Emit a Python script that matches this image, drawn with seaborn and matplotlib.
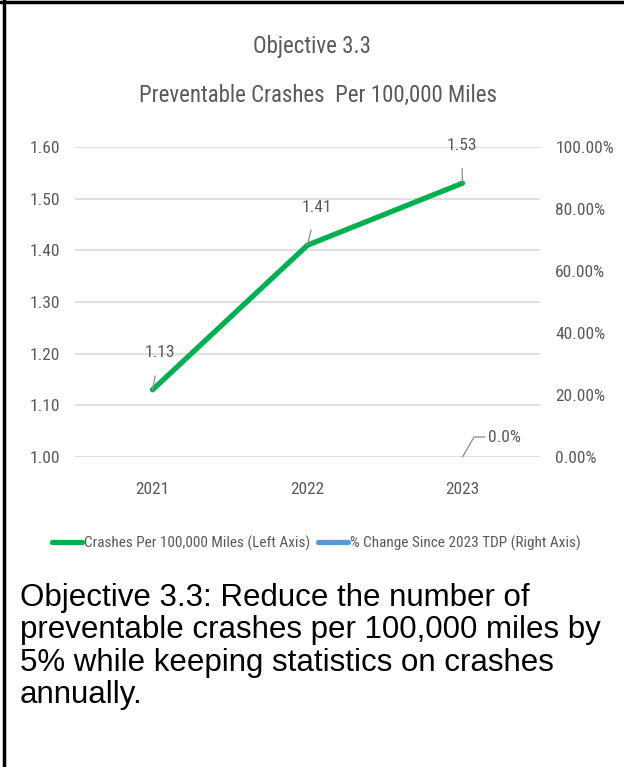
import matplotlib
matplotlib.use("Agg")
import matplotlib.pyplot as plt
import seaborn as sns
import pandas as pd
from matplotlib import font_manager as fm
from matplotlib.lines import Line2D

years = ["2021", "2022", "2023"]
crashes = [1.13, 1.41, 1.53]
pct_years = ["2023"]
pct_change = [0.0]
left_ticks = [1.00, 1.10, 1.20, 1.30, 1.40, 1.50, 1.60]
right_ticks = [0.0, 0.2, 0.4, 0.6, 0.8, 1.0]
title_lines = ["Objective 3.3", "Preventable Crashes  Per 100,000 Miles"]
legend_labels = ["Crashes Per 100,000 Miles (Left Axis)", "% Change Since 2023 TDP (Right Axis)"]
caption_lines = ["Objective 3.3: Reduce the number of",
                 "preventable crashes per 100,000 miles by",
                 "5% while keeping statistics on crashes",
                 "annually."]

sns.set_theme(style="white")
names = {f.name for f in fm.fontManager.ttflist}
cands = ["Liberation Sans Narrow", "DejaVu Sans Condensed", "Roboto Condensed", "Open Sans Condensed", "Roboto"]
narrow = next((c for c in cands if c in names), "DejaVu Sans")
plt.rcParams["font.family"] = [narrow, "DejaVu Sans"]

GREEN = "#00b050"
BLUE = "#5b9bd5"
GRAY = "#595959"

fig = plt.figure(figsize=(6.24, 7.67), dpi=100)
ax = fig.add_axes([75/624, 1-457/767, 465/624, 310/767])
ax2 = ax.twinx()

df = pd.DataFrame({"year": years, "crashes": crashes})
sns.lineplot(data=df, x="year", y="crashes", ax=ax, color=GREEN, linewidth=3.8,
             solid_capstyle="round", legend=False, sort=False)
ax.set_xlim(-0.5, 2.5)
ax.set_ylim(1.0, 1.6)
ax.set_yticks(left_ticks)
ax.set_yticklabels([f"{v:.2f}" for v in left_ticks])
ax.grid(axis="y", color="#d9d9d9", linewidth=1.2)
ax.grid(axis="x", visible=False)
ax.set_xlabel("")
ax.set_ylabel("")
ax.tick_params(axis="both", length=0, labelsize=12.5, labelcolor=GRAY)
ax.tick_params(axis="x", pad=18)
ax.tick_params(axis="y", pad=11)
for s in ax.spines.values():
    s.set_visible(False)

ax2.set_ylim(0, 1.0)
ax2.set_yticks(right_ticks)
ax2.set_yticklabels([f"{v*100:.2f}%" for v in right_ticks])
ax2.tick_params(axis="y", length=0, labelsize=12.5, labelcolor=GRAY, pad=11)
for s in ax2.spines.values():
    s.set_visible(False)
ax2.grid(False)
pos = {y: i for i, y in enumerate(years)}
ax2.plot([pos[y] for y in pct_years], pct_change, color=BLUE, linewidth=3.8)
ax2.set_xlim(-0.5, 2.5)

# data labels with leader lines
offsets = [(7, 37), (9, 38), (-1, 38)]
for i, v in enumerate(crashes):
    ax.annotate(f"{v:.2f}", xy=(i, v), xytext=(offsets[i][0], offsets[i][1]),
                textcoords="offset pixels", ha="center", va="center",
                fontsize=12.5, color=GRAY,
                arrowprops=dict(arrowstyle="-", color="#8c8c8c", lw=0.9,
                                shrinkA=9, shrinkB=0))
for y, v in zip(pct_years, pct_change):
    ax2.annotate(f"{v*100:.1f}%", xy=(pos[y], v), xytext=(42, 20),
                 textcoords="offset pixels", ha="center", va="center",
                 fontsize=12.5, color=GRAY,
                 arrowprops=dict(arrowstyle="-", color="#8c8c8c", lw=0.9,
                                 shrinkA=0, shrinkB=0,
                                 connectionstyle="angle,angleA=0,angleB=60,rad=0",
                                 relpos=(0, 0.5)))

# title
fig.text(312/624, 1-47/767, title_lines[0], ha="center", va="center", fontsize=16.5, color=GRAY)
fig.text(318/624, 1-95/767, title_lines[1], ha="center", va="center", fontsize=16.5, color=GRAY)

# legend
handles = [Line2D([], [], color=GREEN, lw=3.8), Line2D([], [], color=BLUE, lw=3.8)]
fig.legend(handles, legend_labels, loc="center", bbox_to_anchor=(316/624, 1-543/767),
           ncol=2, frameon=False, fontsize=11, handlelength=2.0, handletextpad=0.1,
           columnspacing=0.5, labelcolor=GRAY)

# caption, one line each at the reference baselines
line_y = [598, 630, 663, 695]
for txt, yy in zip(caption_lines, line_y):
    fig.text(20/624, 1-yy/767, txt, ha="left", va="center", fontsize=22.5,
             family=["Liberation Sans", "DejaVu Sans"], color="black")

# border
fig.add_artist(Line2D([4/624, 4/624], [0, 1], transform=fig.transFigure, color="black", lw=2.5))
fig.add_artist(Line2D([0, 1], [1-1.5/767, 1-1.5/767], transform=fig.transFigure, color="black", lw=2.5))

fig.savefig("out.png", dpi=100)
